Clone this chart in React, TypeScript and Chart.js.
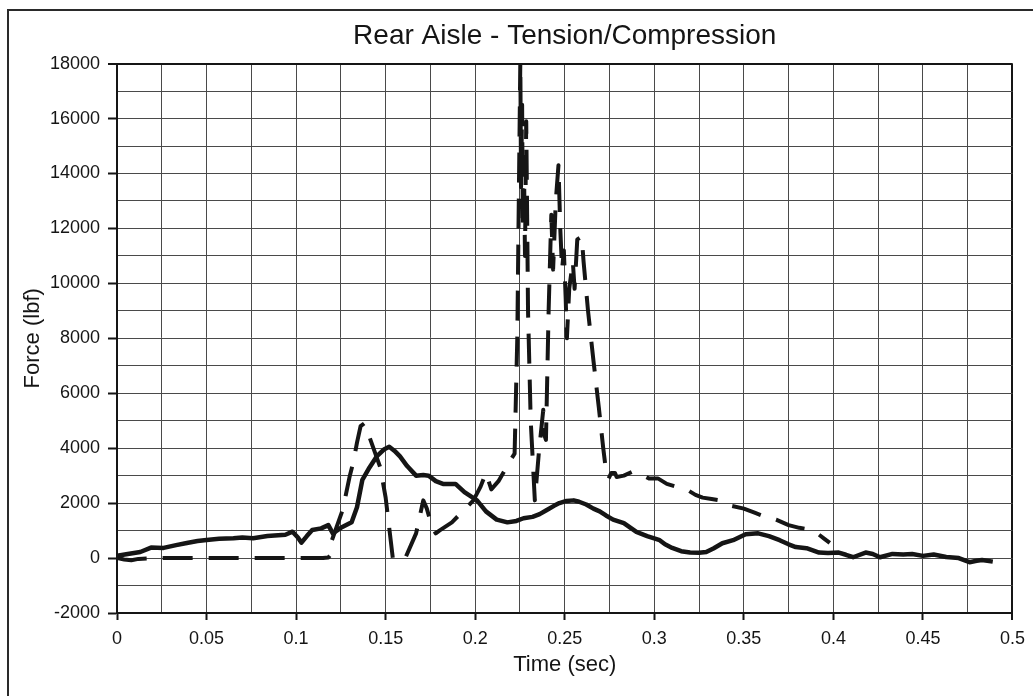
import { useEffect, useRef } from 'react';
import { Chart, registerables } from 'chart.js';

Chart.register(...registerables);

// Solid series: time (sec) and force (lbf)
const solidTime = [
  0, 0.006, 0.013, 0.019, 0.026, 0.033, 0.039, 0.045, 0.05, 0.057, 0.065, 0.07, 0.076, 0.084,
  0.09, 0.094, 0.098, 0.101, 0.103, 0.106, 0.109, 0.114, 0.118, 0.1205, 0.125, 0.131, 0.134,
  0.137, 0.141, 0.145, 0.149, 0.152, 0.155, 0.158, 0.162, 0.167, 0.171, 0.174, 0.178, 0.182,
  0.189, 0.194, 0.201, 0.206, 0.212, 0.218, 0.223, 0.227, 0.232, 0.236, 0.24, 0.244, 0.247,
  0.251, 0.255, 0.258, 0.262, 0.266, 0.2695, 0.273, 0.277, 0.283, 0.29, 0.296, 0.303, 0.306,
  0.31, 0.315, 0.32, 0.325, 0.329, 0.333, 0.338, 0.344, 0.351, 0.358, 0.364, 0.37, 0.375,
  0.379, 0.385, 0.392, 0.397, 0.403, 0.407, 0.411, 0.418, 0.422, 0.426, 0.433, 0.439, 0.444,
  0.45, 0.456, 0.463, 0.47, 0.476, 0.48, 0.483, 0.489,
];
const solidForce = [
  80, 150, 220, 380, 370, 470, 550, 620, 660, 700, 720, 750, 720, 800,
  830, 850, 960, 750, 560, 800, 1020, 1080, 1200, 900, 1100, 1300, 1850,
  2850, 3300, 3700, 3950, 4050, 3900, 3700, 3350, 3000, 3020, 3000, 2800, 2700,
  2700, 2400, 2100, 1700, 1400, 1300, 1350, 1450, 1500, 1600, 1750, 1900, 2000,
  2080, 2100, 2050, 1950, 1800, 1700, 1550, 1400, 1270, 950, 800, 650, 500,
  370, 250, 200, 190, 220, 350, 540, 650, 870, 900, 800, 650, 500,
  400, 360, 200, 180, 200, 120, 30, 200, 150, 30, 150, 130, 150,
  80, 130, 40, 0, -150, -100, -70, -130,
];

// Dashed series: time (sec) and force (lbf)
const dashTime = [
  0, 0.004, 0.008, 0.012, 0.02, 0.06, 0.1, 0.115, 0.118, 0.119, 0.12, 0.126, 0.13, 0.132,
  0.134, 0.136, 0.138, 0.141, 0.147, 0.15, 0.152, 0.154, 0.158, 0.161, 0.167, 0.171, 0.173,
  0.176, 0.178, 0.18, 0.187, 0.199, 0.203, 0.206, 0.209, 0.213, 0.22, 0.222, 0.2235, 0.2252,
  0.2256, 0.2262, 0.2266, 0.2272, 0.2278, 0.2285, 0.229, 0.2295, 0.231, 0.2333, 0.2355, 0.238,
  0.2385, 0.2395, 0.241, 0.2425, 0.2435, 0.245, 0.2465, 0.2475, 0.2485, 0.2495, 0.2505, 0.2512,
  0.2525, 0.2545, 0.2555, 0.257, 0.2595, 0.2605, 0.263, 0.266, 0.269, 0.2715, 0.273, 0.2745,
  0.276, 0.278, 0.279, 0.283, 0.288, 0.292, 0.297, 0.302, 0.307, 0.312, 0.318, 0.323, 0.327,
  0.332, 0.337, 0.343, 0.35, 0.356, 0.362, 0.368, 0.375, 0.381, 0.386, 0.391, 0.395, 0.398,
];
const dashForce = [
  0, -50, -80, -30, 0, 0, 0, 0, 20, 100, 650, 1750, 3000, 3500,
  4200, 4800, 4900, 4400, 3300, 2200, 1100, 0, -100, 0, 900, 2100, 1800,
  1100, 900, 1000, 1300, 2100, 2600, 3100, 2500, 2800, 3600, 3800, 8000, 18100,
  13500, 16500, 12000, 14500, 11000, 15900, 12500, 9000, 5000, 2100, 3800, 5400,
  4500, 4300, 9000, 12500, 10500, 13000, 14300, 12000, 10500, 11200, 9500, 8000,
  9800, 10800, 9800, 11600, 11700, 10800, 9000, 7200, 5500, 4000, 3200, 2900,
  3100, 3100, 2950, 3000, 3150, 3050, 2900, 2900, 2700, 2600, 2500, 2300, 2200,
  2150, 2100, 1900, 1800, 1650, 1500, 1400, 1200, 1100, 1050, 900, 700, 550,
];

const xLabelTicks = [0, 0.05, 0.1, 0.15, 0.2, 0.25, 0.3, 0.35, 0.4, 0.45, 0.5];
const yLabelTicks = [-2000, 0, 2000, 4000, 6000, 8000, 10000, 12000, 14000, 16000, 18000];

const FONT = "'Liberation Sans', Arial, Helvetica, sans-serif";
const INK = '#151515';

const isXMajor = (v: number) => xLabelTicks.some((t) => Math.abs(t - v) < 1e-6);
const isYMajor = (v: number) => yLabelTicks.some((t) => Math.abs(t - v) < 1e-6);

const framePlugin = {
  id: 'frame',
  beforeDraw(chart: any) {
    const ctx = chart.ctx;
    ctx.save();
    ctx.fillStyle = '#ffffff';
    ctx.fillRect(0, 0, chart.width, chart.height);
    ctx.strokeStyle = '#2a2a2a';
    ctx.lineWidth = 2;
    ctx.strokeRect(8, 10, 1200, 900);
    ctx.restore();
  },
};

export default function App() {
  const ref = useRef<HTMLCanvasElement | null>(null);

  useEffect(() => {
    if (!ref.current) return;
    const chart = new Chart(ref.current, {
      type: 'line',
      data: {
        datasets: [
          {
            label: 'Solid',
            data: solidTime.map((t, i) => ({ x: t, y: solidForce[i] })),
            borderColor: INK,
            borderWidth: 4.5,
            pointRadius: 0,
            tension: 0,
            fill: false,
            borderJoinStyle: 'round',
          },
          {
            label: 'Dashed',
            data: dashTime.map((t, i) => ({ x: t, y: dashForce[i] })),
            borderColor: INK,
            borderWidth: 4,
            borderDash: [30, 16],
            borderCapStyle: 'butt',
            borderJoinStyle: 'round',
            pointRadius: 0,
            tension: 0,
            fill: false,
          },
        ],
      },
      options: {
        animation: false,
        responsive: false,
        events: [],
        layout: { padding: { left: 0, right: 19, top: 0, bottom: 0 } },
        plugins: {
          legend: { display: false },
          tooltip: { enabled: false },
          title: {
            display: true,
            text: 'Rear Aisle - Tension/Compression',
            fullSize: false,
            color: INK,
            font: { family: FONT, size: 28, weight: 'normal' },
            padding: { top: 19, bottom: 11 },
          },
        },
        scales: {
          x: {
            type: 'linear',
            min: 0,
            max: 0.5,
            afterFit: (scale: any) => {
              scale.height = 83;
            },
            ticks: {
              stepSize: 0.025,
              autoSkip: false,
              maxRotation: 0,
              padding: 8,
              color: INK,
              font: { family: FONT, size: 18 },
              callback: (v: any) => {
                const n = Number(v);
                if (!isXMajor(n)) return '';
                return String(Math.round(n * 100) / 100);
              },
            },
            grid: {
              color: (c: any) => (c.tick && Math.abs(c.tick.value - 0.5) < 1e-6 ? INK : '#4a4a4a'),
              lineWidth: (c: any) => (c.tick && Math.abs(c.tick.value - 0.5) < 1e-6 ? 2 : 1),
              tickLength: 7,
              tickWidth: 2,
              tickColor: (c: any) => (c.tick && isXMajor(c.tick.value) ? INK : 'rgba(0,0,0,0)'),
            },
            border: { display: true, color: INK, width: 2 },
            title: {
              display: true,
              text: 'Time (sec)',
              color: INK,
              font: { family: FONT, size: 22 },
              padding: { top: 0, bottom: 18 },
            },
          },
          y: {
            type: 'linear',
            min: -2000,
            max: 18000,
            afterFit: (scale: any) => {
              scale.width = 117;
            },
            ticks: {
              stepSize: 1000,
              autoSkip: false,
              padding: 8,
              color: INK,
              font: { family: FONT, size: 18 },
              callback: (v: any) => {
                const n = Number(v);
                if (!isYMajor(n)) return '';
                return String(Math.round(n));
              },
            },
            grid: {
              color: (c: any) => (c.tick && c.tick.value === 18000 ? INK : '#4a4a4a'),
              lineWidth: (c: any) => (c.tick && c.tick.value === 18000 ? 2 : 1),
              tickLength: 9,
              tickWidth: 2,
              tickColor: (c: any) => (c.tick && isYMajor(c.tick.value) ? INK : 'rgba(0,0,0,0)'),
            },
            border: { display: true, color: INK, width: 2 },
            title: {
              display: true,
              text: 'Force (lbf)',
              color: INK,
              font: { family: FONT, size: 22 },
              padding: { top: 20, bottom: 0 },
            },
          },
        },
      },
      plugins: [framePlugin],
    } as any);
    return () => chart.destroy();
  }, []);

  return (
    <div style={{ position: 'fixed', left: 0, top: 0, width: 1033, height: 696, background: '#fff' }}>
      <canvas ref={ref} width={1033} height={696} style={{ display: 'block' }} />
    </div>
  );
}
